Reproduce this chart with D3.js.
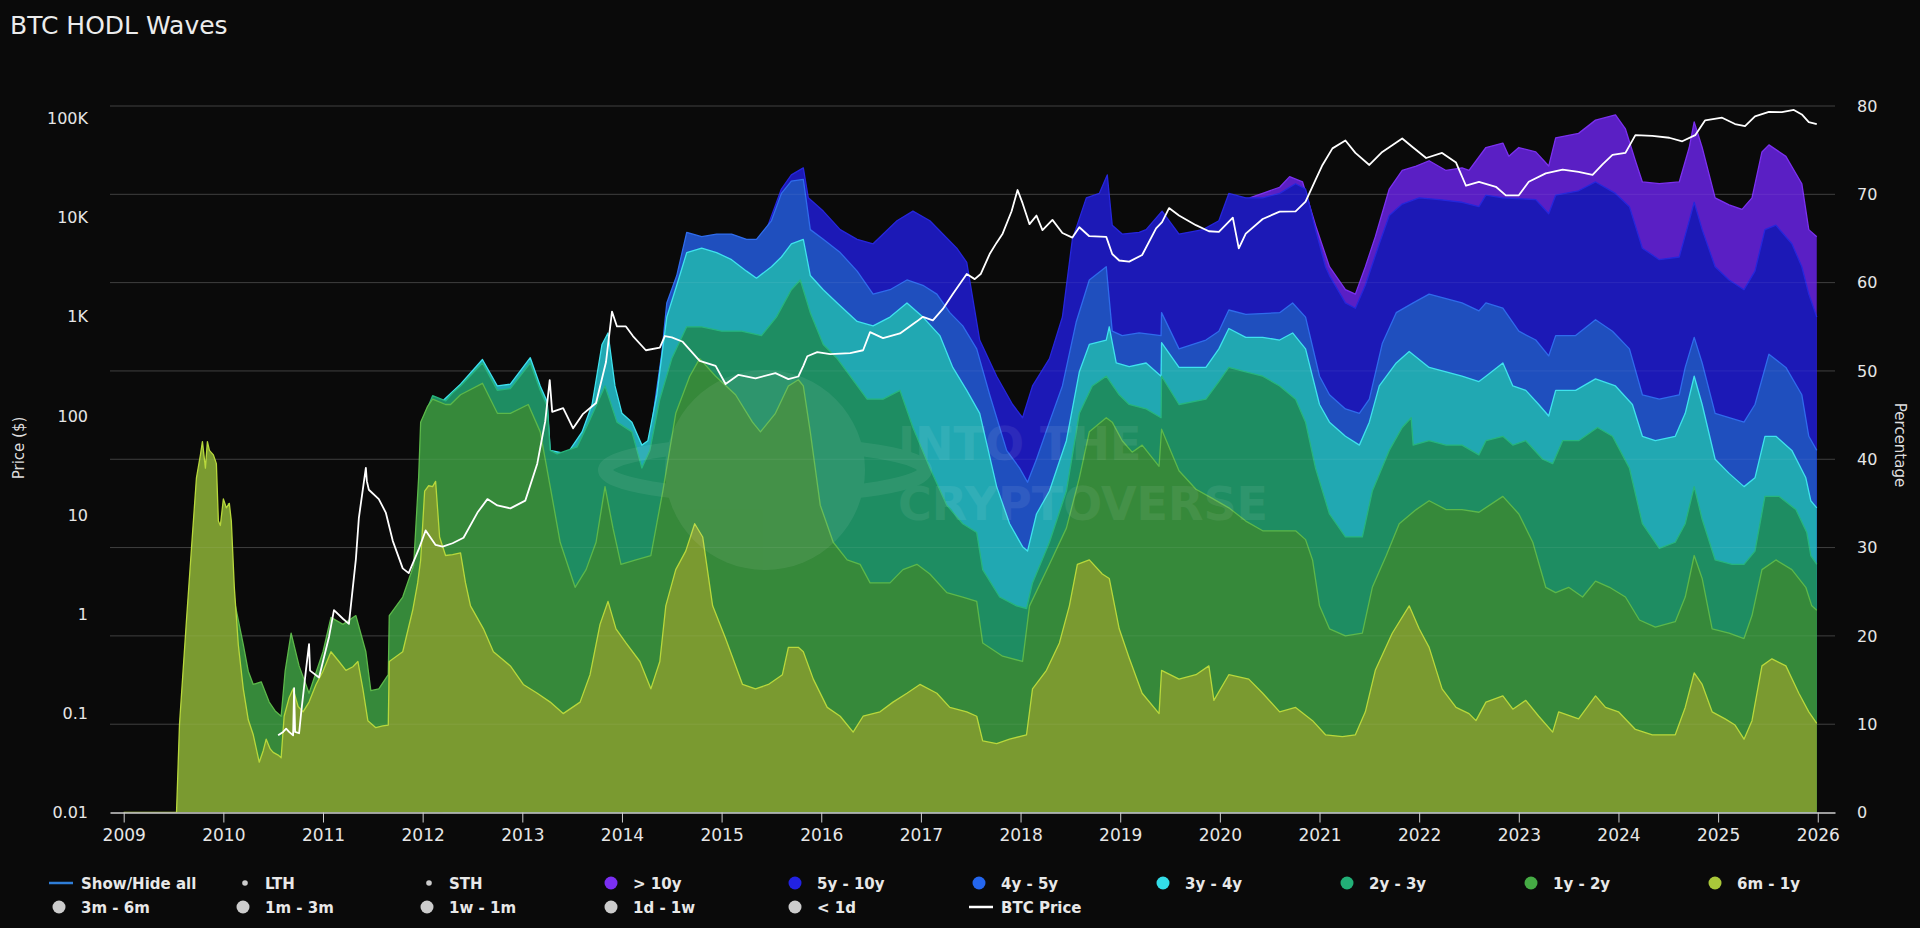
<!DOCTYPE html>
<html>
<head>
<meta charset="utf-8">
<script src="https://cdn.jsdelivr.net/npm/d3@7"></script>
<style>
  html, body { margin: 0; padding: 0; background: #0a0a0a; }
  svg { display: block; font-family: "DejaVu Sans", sans-serif; }
</style>
</head>
<body>
<div id="chart"></div>
<script>
// CUMULATIVE TOP OF EACH VISIBLE BAND (% of supply), [decimal year, value]
const band6m1y = [[2009.0,0],[2009.53,0],[2009.56,10],[2009.63,21.8],[2009.68,29.9],[2009.73,37.9],[2009.77,40.5],[2009.79,42],[2009.82,39],[2009.84,42],[2009.86,41],[2009.9,40.5],[2009.93,39.5],[2009.95,33],[2009.97,32.5],[2010.0,35.5],[2010.03,34.5],[2010.06,35],[2010.08,33],[2010.11,25.5],[2010.15,19],[2010.2,14],[2010.25,10.5],[2010.3,8.8],[2010.36,5.7],[2010.4,7],[2010.43,8.3],[2010.47,7.2],[2010.5,6.8],[2010.55,6.5],[2010.58,6.2],[2010.61,10.9],[2010.66,13],[2010.7,14],[2010.75,12],[2010.8,11.4],[2010.86,12.5],[2010.93,14.5],[2011.0,16],[2011.08,18.2],[2011.16,17.1],[2011.23,16.1],[2011.3,16.5],[2011.35,17.1],[2011.4,14],[2011.45,10.4],[2011.53,9.6],[2011.6,9.8],[2011.655,9.9],[2011.665,17.1],[2011.8,18.2],[2011.9,22.9],[2011.95,26],[2011.98,28.6],[2012.02,36.4],[2012.06,37],[2012.1,36.9],[2012.13,37.5],[2012.17,31.2],[2012.23,29.1],[2012.3,29.2],[2012.38,29.4],[2012.43,26],[2012.48,23.4],[2012.61,20.8],[2012.71,18.2],[2012.88,16.6],[2013.01,14.5],[2013.15,13.5],[2013.28,12.5],[2013.41,11.2],[2013.58,12.5],[2013.68,15.6],[2013.78,21.3],[2013.86,23.9],[2013.94,20.8],[2014.04,19.2],[2014.18,17.1],[2014.29,14],[2014.38,17.1],[2014.44,23.4],[2014.54,27.5],[2014.64,29.6],[2014.73,32.7],[2014.81,31.2],[2014.91,23.4],[2015.04,19.7],[2015.21,14.5],[2015.34,14],[2015.47,14.5],[2015.61,15.6],[2015.67,18.7],[2015.77,18.7],[2015.82,18.2],[2015.92,15.1],[2016.06,11.9],[2016.19,10.9],[2016.32,9.1],[2016.42,10.9],[2016.59,11.4],[2016.72,12.5],[2016.86,13.5],[2016.99,14.5],[2017.16,13.5],[2017.29,11.9],[2017.46,11.4],[2017.56,10.9],[2017.62,8.1],[2017.76,7.8],[2017.89,8.3],[2018.06,8.8],[2018.12,14],[2018.26,16.1],[2018.39,19.2],[2018.49,23.4],[2018.57,28.1],[2018.69,28.6],[2018.82,27],[2018.89,26.5],[2018.99,20.8],[2019.09,17.5],[2019.22,13.5],[2019.39,11.2],[2019.415,16.1],[2019.59,15.1],[2019.76,15.6],[2019.89,16.6],[2019.94,12.7],[2020.09,15.6],[2020.29,15.1],[2020.43,13.5],[2020.6,11.4],[2020.76,11.9],[2020.93,10.4],[2021.06,8.8],[2021.23,8.6],[2021.36,8.8],[2021.46,11.4],[2021.56,16.1],[2021.73,20.3],[2021.9,23.4],[2022.0,20.8],[2022.1,18.7],[2022.23,14],[2022.37,11.9],[2022.5,11.2],[2022.57,10.4],[2022.67,12.5],[2022.84,13.2],[2022.94,11.7],[2023.07,12.7],[2023.2,10.9],[2023.34,9.1],[2023.4,11.4],[2023.6,10.6],[2023.77,13.2],[2023.87,11.9],[2024.0,11.4],[2024.17,9.4],[2024.34,8.8],[2024.57,8.8],[2024.67,11.9],[2024.76,15.8],[2024.84,14.5],[2024.94,11.4],[2025.07,10.6],[2025.17,9.9],[2025.26,8.3],[2025.34,10.4],[2025.44,16.6],[2025.54,17.4],[2025.68,16.6],[2025.81,13.5],[2025.91,11.4],[2025.99,10.1]];

const band1y2y = [[2010.05,35],[2010.11,24],[2010.2,19],[2010.25,16],[2010.3,14.5],[2010.38,14.8],[2010.46,12.5],[2010.52,11.5],[2010.58,10.9],[2010.62,16],[2010.68,20.3],[2010.76,16.6],[2010.86,13.5],[2011.0,18.2],[2011.08,22.1],[2011.2,21.3],[2011.33,22.3],[2011.43,18.2],[2011.48,13.8],[2011.56,14],[2011.655,15.6],[2011.665,22.3],[2011.8,24.4],[2011.91,28],[2011.96,38],[2011.98,44.2],[2012.05,46],[2012.1,46.8],[2012.23,46.2],[2012.28,46.2],[2012.38,47.3],[2012.6,48.6],[2012.75,45.2],[2012.88,45.2],[2013.06,46.2],[2013.18,43.1],[2013.28,36.9],[2013.38,30.6],[2013.53,25.5],[2013.64,27.5],[2013.74,30.6],[2013.83,36.9],[2013.91,32.2],[2013.99,28.1],[2014.14,28.6],[2014.29,29.1],[2014.41,36.4],[2014.54,45.2],[2014.68,49.4],[2014.78,51.4],[2014.94,49.4],[2015.14,47.3],[2015.31,44.2],[2015.39,43.1],[2015.54,45.2],[2015.67,48.3],[2015.77,49],[2015.82,48.3],[2015.89,43.1],[2015.99,34.8],[2016.12,30.6],[2016.26,28.6],[2016.39,28.1],[2016.49,26],[2016.69,26],[2016.82,27.5],[2016.96,28.1],[2017.09,27],[2017.26,24.9],[2017.42,24.4],[2017.56,23.9],[2017.62,19.2],[2017.82,17.7],[2018.02,17.1],[2018.09,23.4],[2018.29,28.1],[2018.46,32.2],[2018.59,37.9],[2018.69,43.1],[2018.86,44.7],[2018.92,44.2],[2019.02,42.1],[2019.12,40.8],[2019.22,41.6],[2019.39,39.2],[2019.415,43.4],[2019.59,38.7],[2019.76,36.6],[2019.92,35.6],[2020.09,34.5],[2020.26,33],[2020.43,31.9],[2020.76,31.9],[2020.86,30.9],[2020.93,28.6],[2021.0,23.4],[2021.1,20.8],[2021.26,20],[2021.43,20.3],[2021.53,25.5],[2021.67,29.1],[2021.8,32.7],[2021.97,34.3],[2022.1,35.3],[2022.27,34.3],[2022.43,34.3],[2022.6,34],[2022.84,35.8],[2023.0,33.8],[2023.14,30.6],[2023.27,25.5],[2023.37,24.9],[2023.5,25.5],[2023.64,24.4],[2023.77,26.2],[2023.91,25.5],[2024.07,24.4],[2024.21,21.8],[2024.37,21],[2024.57,21.6],[2024.67,24.4],[2024.76,29.1],[2024.84,26.5],[2024.94,20.8],[2025.11,20.3],[2025.26,19.7],[2025.34,22.3],[2025.44,27.5],[2025.58,28.6],[2025.74,27.5],[2025.88,25.5],[2025.94,23.4],[2025.99,22.9]];

const band2y3y = [[2011.97,40],[2012.0,44.5],[2012.1,47.2],[2012.23,46.6],[2012.3,47.5],[2012.38,48.3],[2012.6,50.9],[2012.75,47.8],[2012.88,48],[2013.08,50.9],[2013.18,47.8],[2013.25,46],[2013.28,41],[2013.35,40.6],[2013.55,41.4],[2013.68,44.5],[2013.83,48.3],[2013.95,44.2],[2014.1,43.1],[2014.2,39],[2014.28,41],[2014.38,46.8],[2014.5,51.4],[2014.65,55],[2014.8,55],[2015.0,54.5],[2015.2,54.5],[2015.4,54],[2015.55,56.1],[2015.7,59.2],[2015.79,60.3],[2015.89,56.6],[2016.02,53],[2016.16,51.4],[2016.29,49.4],[2016.46,46.8],[2016.62,46.8],[2016.79,47.8],[2016.92,43.6],[2017.09,39],[2017.26,34.8],[2017.42,32.7],[2017.56,31.7],[2017.62,27.5],[2017.79,24.4],[2017.96,23.4],[2018.06,23.1],[2018.12,26],[2018.29,30.6],[2018.46,36.4],[2018.59,45.2],[2018.72,48.3],[2018.86,49.4],[2018.99,47.3],[2019.09,46.2],[2019.26,45.7],[2019.41,44.7],[2019.415,49.4],[2019.59,46.2],[2019.86,46.8],[2019.99,48.8],[2020.09,50.4],[2020.26,49.9],[2020.43,49.4],[2020.6,48.3],[2020.76,46.8],[2020.86,44.2],[2020.96,39],[2021.1,33.8],[2021.26,31.2],[2021.43,31.2],[2021.53,36.4],[2021.7,41],[2021.83,43.6],[2021.92,44.7],[2021.94,41.6],[2022.1,42.1],[2022.27,41.6],[2022.43,41.6],[2022.6,40.5],[2022.67,42.1],[2022.84,42.6],[2022.94,41.6],[2023.07,42.1],[2023.24,40],[2023.34,39.5],[2023.44,42.1],[2023.6,42.1],[2023.79,43.6],[2023.94,42.6],[2024.11,39],[2024.24,32.7],[2024.41,29.9],[2024.57,30.6],[2024.67,32.7],[2024.76,36.9],[2024.84,33.2],[2024.97,28.6],[2025.14,28.1],[2025.26,28.1],[2025.37,29.6],[2025.47,35.8],[2025.61,35.8],[2025.78,34.3],[2025.89,31.7],[2025.93,29.1],[2025.99,28.1]];

const band3y4y = [[2012.2,46.6],[2012.38,48.5],[2012.6,51.3],[2012.75,48.3],[2012.88,48.5],[2013.08,51.5],[2013.18,48.3],[2013.25,46.5],[2013.28,41],[2013.45,40.6],[2013.6,43.1],[2013.7,46.2],[2013.8,53],[2013.86,54.3],[2013.93,48.3],[2014.0,45.2],[2014.1,44.2],[2014.2,41.6],[2014.26,42.1],[2014.35,47.3],[2014.45,56.1],[2014.55,59.7],[2014.65,63.4],[2014.8,63.9],[2014.95,63.4],[2015.1,62.6],[2015.25,61.3],[2015.35,60.5],[2015.5,61.8],[2015.6,62.9],[2015.7,64.4],[2015.82,64.9],[2015.89,60.8],[2016.02,59.2],[2016.16,57.7],[2016.36,55.6],[2016.52,55.1],[2016.69,56.1],[2016.86,57.7],[2017.02,56.1],[2017.19,54],[2017.32,50.4],[2017.46,47.8],[2017.59,45.2],[2017.76,36.9],[2017.89,32.7],[2018.02,30.1],[2018.07,29.6],[2018.16,33.8],[2018.29,36.4],[2018.46,42.1],[2018.59,49.9],[2018.69,53],[2018.86,53.5],[2018.89,55],[2018.96,50.9],[2019.09,50.5],[2019.26,50.9],[2019.41,49.4],[2019.415,53.2],[2019.59,50.4],[2019.86,50.4],[2019.99,52.5],[2020.09,54.8],[2020.26,53.8],[2020.43,53.8],[2020.6,53.5],[2020.73,54.3],[2020.86,52.5],[2021.0,46.2],[2021.1,44.2],[2021.26,42.6],[2021.4,41.6],[2021.5,44.2],[2021.6,48.3],[2021.77,50.9],[2021.9,52.2],[2022.1,50.4],[2022.27,49.9],[2022.43,49.4],[2022.6,48.8],[2022.67,49.4],[2022.84,50.9],[2022.94,48.3],[2023.07,47.8],[2023.2,46.2],[2023.3,44.9],[2023.37,47.8],[2023.57,47.8],[2023.77,49.1],[2023.97,48.3],[2024.14,46.2],[2024.24,42.6],[2024.37,42.1],[2024.57,42.6],[2024.67,45.2],[2024.76,49.4],[2024.84,46.2],[2024.97,40],[2025.11,38.4],[2025.26,36.9],[2025.37,37.9],[2025.47,42.6],[2025.58,42.6],[2025.74,41],[2025.88,37.9],[2025.93,35.3],[2025.99,34.5]];

const band4y5y = [[2014.3,44],[2014.4,52],[2014.45,57.7],[2014.55,60.8],[2014.65,65.7],[2014.8,65.2],[2014.95,65.5],[2015.1,65.5],[2015.25,64.9],[2015.35,64.9],[2015.5,67],[2015.6,70.1],[2015.7,71.5],[2015.82,71.7],[2015.89,66],[2016.02,64.9],[2016.19,63.4],[2016.36,61.3],[2016.52,58.7],[2016.69,59.2],[2016.86,60.3],[2017.02,59.7],[2017.16,58.7],[2017.29,56.6],[2017.42,55.1],[2017.56,52.5],[2017.69,47.3],[2017.86,41],[2017.99,39],[2018.07,37.4],[2018.16,40],[2018.29,44.2],[2018.42,48.3],[2018.56,55.6],[2018.69,60.3],[2018.86,61.8],[2018.92,54.5],[2019.02,54],[2019.19,54.3],[2019.41,54],[2019.415,56.6],[2019.59,52.5],[2019.86,53.5],[2019.99,54.5],[2020.09,56.9],[2020.26,56.4],[2020.6,56.6],[2020.73,57.7],[2020.86,56.1],[2021.0,49.4],[2021.1,47.3],[2021.26,45.7],[2021.4,45.2],[2021.5,46.8],[2021.63,53.1],[2021.77,56.6],[2021.94,57.7],[2022.1,58.7],[2022.27,58.2],[2022.43,57.7],[2022.6,56.8],[2022.67,57.7],[2022.84,57.1],[2023.0,54.5],[2023.17,53.5],[2023.3,51.7],[2023.37,54],[2023.57,54],[2023.77,55.8],[2023.94,54.5],[2024.11,52.5],[2024.24,47.3],[2024.41,46.8],[2024.61,47.3],[2024.67,50.4],[2024.76,53.8],[2024.84,50.9],[2024.97,45.2],[2025.11,44.7],[2025.26,44.2],[2025.37,46.2],[2025.51,51.9],[2025.68,50.4],[2025.84,47.3],[2025.91,42.6],[2025.99,41]];

const band5y10y = [[2015.45,66],[2015.6,70.6],[2015.7,72.2],[2015.82,73],[2015.87,69.6],[2016.02,68.1],[2016.19,66],[2016.36,64.9],[2016.52,64.4],[2016.76,67],[2016.92,68.1],[2017.09,67],[2017.22,65.5],[2017.36,63.9],[2017.46,62.3],[2017.59,53.5],[2017.76,49.4],[2017.92,46.2],[2018.02,44.7],[2018.12,48.3],[2018.29,51.4],[2018.42,56.1],[2018.52,64.9],[2018.66,69.6],[2018.79,70.1],[2018.87,72.2],[2018.92,66.5],[2019.02,65.5],[2019.19,65.7],[2019.26,66],[2019.42,68.1],[2019.59,65.5],[2019.83,66],[2019.99,67],[2020.09,70.1],[2020.26,69.6],[2020.43,69.6],[2020.6,70.1],[2020.76,71.2],[2020.86,70.6],[2020.96,66],[2021.06,61.8],[2021.1,60.8],[2021.26,57.7],[2021.36,57.1],[2021.46,59.7],[2021.6,64.4],[2021.7,67.6],[2021.83,68.9],[2022.0,69.6],[2022.2,69.4],[2022.43,69.1],[2022.6,68.6],[2022.67,69.9],[2022.84,69.6],[2023.17,69.4],[2023.3,67.8],[2023.37,69.9],[2023.6,70.4],[2023.77,71.4],[2023.97,70.1],[2024.11,68.6],[2024.24,63.9],[2024.41,62.6],[2024.61,62.9],[2024.71,67],[2024.76,69.1],[2024.84,66],[2024.97,61.8],[2025.11,60.3],[2025.26,59.2],[2025.37,61.3],[2025.47,66],[2025.58,66.5],[2025.74,64.4],[2025.84,61.8],[2025.91,58.7],[2025.99,56.1]];

const band10yPlus = [[2020.3,69.6],[2020.45,70.2],[2020.6,70.8],[2020.7,72],[2020.83,71.4],[2020.96,66.5],[2021.1,61.8],[2021.26,59.2],[2021.36,58.7],[2021.46,61.8],[2021.56,65.2],[2021.7,70.6],[2021.83,72.7],[2021.97,73.2],[2022.1,73.8],[2022.27,72.7],[2022.43,73],[2022.5,72.7],[2022.67,75.3],[2022.84,75.8],[2022.9,74.3],[2023.0,75.3],[2023.17,74.8],[2023.3,73.2],[2023.37,76.4],[2023.6,76.9],[2023.77,78.4],[2023.97,79],[2024.07,77.4],[2024.17,73.8],[2024.24,71.4],[2024.41,71.2],[2024.61,71.4],[2024.71,75.3],[2024.76,78.2],[2024.84,75.3],[2024.97,69.6],[2025.11,68.8],[2025.24,68.3],[2025.34,69.6],[2025.44,74.8],[2025.51,75.6],[2025.68,74.3],[2025.84,71.2],[2025.91,66],[2025.99,65.2]];

// BTC PRICE (USD), [decimal year, price]
const btcPrice = [[2010.55,0.06],[2010.6,0.065],[2010.63,0.07],[2010.66,0.065],[2010.7,0.06],[2010.71,0.18],[2010.72,0.065],[2010.76,0.063],[2010.78,0.1],[2010.83,0.28],[2010.86,0.5],[2010.87,0.27],[2010.96,0.23],[2011.06,0.59],[2011.11,1.1],[2011.2,0.9],[2011.26,0.8],[2011.33,3.6],[2011.36,9.4],[2011.43,30],[2011.44,22],[2011.46,18],[2011.56,14.5],[2011.63,10.6],[2011.7,5.5],[2011.8,2.9],[2011.86,2.6],[2011.96,4.5],[2012.03,7],[2012.13,5],[2012.2,4.8],[2012.3,5.2],[2012.41,5.9],[2012.55,10.6],[2012.65,14.5],[2012.75,12.5],[2012.88,11.7],[2013.03,14],[2013.15,33],[2013.23,88],[2013.275,230],[2013.3,110],[2013.41,120],[2013.51,75],[2013.61,105],[2013.74,135],[2013.84,350],[2013.9,1130],[2013.95,800],[2014.04,800],[2014.11,640],[2014.24,460],[2014.38,490],[2014.43,640],[2014.5,620],[2014.61,560],[2014.78,360],[2014.94,320],[2015.04,210],[2015.17,260],[2015.34,240],[2015.54,270],[2015.67,235],[2015.77,250],[2015.82,320],[2015.86,400],[2015.96,440],[2016.09,420],[2016.29,430],[2016.42,460],[2016.49,700],[2016.62,610],[2016.79,680],[2016.96,900],[2017.02,1000],[2017.12,920],[2017.22,1200],[2017.32,1700],[2017.46,2700],[2017.54,2400],[2017.6,2700],[2017.69,4300],[2017.76,5600],[2017.82,6900],[2017.91,11600],[2017.97,19000],[2018.02,14000],[2018.09,8600],[2018.16,10500],[2018.22,7500],[2018.32,9500],[2018.42,7000],[2018.52,6300],[2018.59,8000],[2018.69,6500],[2018.86,6400],[2018.92,4300],[2018.99,3700],[2019.09,3600],[2019.22,4200],[2019.36,7800],[2019.42,9000],[2019.49,12500],[2019.59,10500],[2019.76,8400],[2019.89,7300],[2019.99,7200],[2020.13,10000],[2020.19,4900],[2020.26,6900],[2020.43,9700],[2020.6,11500],[2020.76,11600],[2020.86,14500],[2020.96,24000],[2021.03,34000],[2021.13,50000],[2021.26,60000],[2021.36,45000],[2021.5,34000],[2021.63,46000],[2021.83,63000],[2021.93,52000],[2022.07,40000],[2022.23,45000],[2022.37,36000],[2022.47,21000],[2022.6,23000],[2022.77,20500],[2022.87,16800],[2023.0,16800],[2023.1,23000],[2023.27,28000],[2023.44,30500],[2023.6,29000],[2023.74,27000],[2023.84,34500],[2023.94,43000],[2024.07,45000],[2024.17,68000],[2024.34,67000],[2024.51,64000],[2024.64,59000],[2024.77,68000],[2024.87,96000],[2025.04,102000],[2025.17,88000],[2025.27,84000],[2025.37,105000],[2025.51,117000],[2025.64,116000],[2025.76,122000],[2025.84,110000],[2025.91,92000],[2025.99,88000]];

// TICKS
const yearTicks = d3.range(2009, 2027);
const priceTicks = [0.01, 0.1, 1, 10, 100, 1000, 10000, 100000];
const priceTickLabels = ["0.01", "0.1", "1", "10", "100", "1K", "10K", "100K"];
const pctTicks = [0, 10, 20, 30, 40, 50, 60, 70, 80];

// BANDS, DRAWN TOP OF STACK FIRST
const bands = [
  {name: "> 10y",   data: band10yPlus, fill: "#5a1fc4", stroke: "#7b30f0"},
  {name: "5y - 10y", data: band5y10y,  fill: "#1c19b6", stroke: "#2626dc"},
  {name: "4y - 5y",  data: band4y5y,   fill: "#1f4fbe", stroke: "#2f6cec"},
  {name: "3y - 4y",  data: band3y4y,   fill: "#21a8b2", stroke: "#3fe2ee"},
  {name: "2y - 3y",  data: band2y3y,   fill: "#1e8d62", stroke: "#27b57c"},
  {name: "1y - 2y",  data: band1y2y,   fill: "#36893a", stroke: "#5cb84a"},
  {name: "6m - 1y",  data: band6m1y,   fill: "#7a9a30", stroke: "#b8d83c"}
];

// LEGEND ROWS
const legendRow1 = [
  {label: "Show/Hide all", type: "line", color: "#2f7ed8"},
  {label: "LTH", type: "dot", color: "#cccccc"},
  {label: "STH", type: "dot", color: "#cccccc"},
  {label: "> 10y", type: "circle", color: "#7b2ff2"},
  {label: "5y - 10y", type: "circle", color: "#2222e2"},
  {label: "4y - 5y", type: "circle", color: "#2466ee"},
  {label: "3y - 4y", type: "circle", color: "#33dde8"},
  {label: "2y - 3y", type: "circle", color: "#22b077"},
  {label: "1y - 2y", type: "circle", color: "#45ab44"},
  {label: "6m - 1y", type: "circle", color: "#aac83a"}
];
const legendRow2 = [
  {label: "3m - 6m", type: "circle", color: "#cccccc"},
  {label: "1m - 3m", type: "circle", color: "#cccccc"},
  {label: "1w - 1m", type: "circle", color: "#cccccc"},
  {label: "1d - 1w", type: "circle", color: "#cccccc"},
  {label: "< 1d", type: "circle", color: "#cccccc"},
  {label: "BTC Price", type: "line", color: "#ffffff"}
];

// GLOBAL LAYOUT
const width = 1920, height = 928;
const plot = {left: 110, right: 1835, top: 106, bottom: 812.5};

const svg = d3.select("#chart").append("svg")
  .attr("width", width).attr("height", height);
svg.append("rect").attr("width", width).attr("height", height).attr("fill", "#0a0a0a");

// SCALES
const x = d3.scaleLinear().domain([2008.8625, 2026.173]).range([plot.left, plot.right]);
const yPct = d3.scaleLinear().domain([0, 80]).range([plot.bottom, plot.top]);
const yPrice = d3.scaleLog().domain([0.01, Math.pow(10, 5.1265)]).range([plot.bottom, plot.top]);

svg.append("clipPath").attr("id", "plotClip")
  .append("rect")
  .attr("x", plot.left).attr("y", plot.top - 2)
  .attr("width", plot.right - plot.left).attr("height", plot.bottom - plot.top + 2);

// TITLE
svg.append("text")
  .attr("x", 10).attr("y", 34)
  .attr("fill", "#ececec")
  .style("font-size", "25px")
  .text("BTC HODL Waves");

// GRID BEHIND
const grid = svg.append("g");
grid.selectAll("line")
  .data(pctTicks.filter(d => d > 0))
  .enter().append("line")
  .attr("x1", plot.left).attr("x2", plot.right)
  .attr("y1", d => yPct(d)).attr("y2", d => yPct(d))
  .attr("stroke", "#333333").attr("stroke-width", 1);

// STACKED WAVES (painted from the top band down)
const series = svg.append("g").attr("clip-path", "url(#plotClip)");
const area = d3.area()
  .x(d => x(d[0]))
  .y0(yPct(0))
  .y1(d => yPct(d[1]));
const edge = d3.line()
  .x(d => x(d[0]))
  .y(d => yPct(d[1]));

bands.forEach(b => {
  series.append("path")
    .datum(b.data)
    .attr("d", area)
    .attr("fill", b.fill);
  series.append("path")
    .datum(b.data)
    .attr("d", edge)
    .attr("fill", "none")
    .attr("stroke", b.stroke)
    .attr("stroke-width", 1.3)
    .attr("stroke-linejoin", "round");
});

// GRID SEEN THROUGH THE AREAS
svg.append("g").selectAll("line")
  .data(pctTicks.filter(d => d > 0))
  .enter().append("line")
  .attr("x1", plot.left).attr("x2", plot.right)
  .attr("y1", d => yPct(d)).attr("y2", d => yPct(d))
  .attr("stroke", "#ffffff").attr("stroke-opacity", 0.07).attr("stroke-width", 1);

// WATERMARK
const wm = svg.append("g").attr("opacity", 0.07).attr("fill", "#ffffff");
wm.append("circle").attr("cx", 765).attr("cy", 470).attr("r", 100);
wm.append("ellipse").attr("cx", 765).attr("cy", 470).attr("rx", 160).attr("ry", 26)
  .attr("fill", "none").attr("stroke", "#ffffff").attr("stroke-width", 14);
wm.append("text").attr("x", 898).attr("y", 460)
  .style("font-size", "46px").style("font-weight", "bold").text("INTO THE");
wm.append("text").attr("x", 898).attr("y", 520)
  .style("font-size", "46px").style("font-weight", "bold").text("CRYPTOVERSE");

// BTC PRICE LINE
const priceLine = d3.line()
  .x(d => x(d[0]))
  .y(d => yPrice(d[1]));
svg.append("g").attr("clip-path", "url(#plotClip)")
  .append("path")
  .datum(btcPrice)
  .attr("d", priceLine)
  .attr("fill", "none")
  .attr("stroke", "#ffffff")
  .attr("stroke-width", 1.8)
  .attr("stroke-linejoin", "round");

// X AXIS
const xAxis = d3.axisBottom(x)
  .tickValues(yearTicks)
  .tickFormat(d3.format("d"))
  .tickSize(10)
  .tickSizeOuter(0);
const xg = svg.append("g")
  .attr("transform", "translate(0," + plot.bottom + ")")
  .call(xAxis);
xg.select(".domain").attr("stroke", "#cfcfcf").attr("stroke-width", 1.5);
xg.selectAll(".tick line").attr("stroke", "#cfcfcf");
xg.selectAll(".tick text")
  .attr("fill", "#e6e6e6")
  .attr("y", 16)
  .style("font-size", "17px")
  .style("font-family", "DejaVu Sans, sans-serif");

// LEFT AXIS (LOG PRICE) - labels only
const yAxisLeft = d3.axisLeft(yPrice)
  .tickValues(priceTicks)
  .tickFormat((d, i) => priceTickLabels[i])
  .tickSize(0);
const ylg = svg.append("g")
  .attr("transform", "translate(" + 88 + ",0)")
  .call(yAxisLeft);
ylg.select(".domain").remove();
ylg.selectAll(".tick text")
  .attr("x", 0)
  .attr("fill", "#e6e6e6")
  .style("font-size", "16px")
  .style("font-family", "DejaVu Sans, sans-serif");

// RIGHT AXIS (PERCENTAGE) - labels only
const yAxisRight = d3.axisRight(yPct)
  .tickValues(pctTicks)
  .tickSize(0);
const yrg = svg.append("g")
  .attr("transform", "translate(" + 1857 + ",0)")
  .call(yAxisRight);
yrg.select(".domain").remove();
yrg.selectAll(".tick text")
  .attr("x", 0)
  .attr("fill", "#e6e6e6")
  .style("font-size", "16px")
  .style("font-family", "DejaVu Sans, sans-serif");

// AXIS TITLES
svg.append("text")
  .attr("transform", "translate(24," + 448 + ") rotate(-90)")
  .attr("text-anchor", "middle")
  .attr("fill", "#dddddd")
  .style("font-size", "15px")
  .text("Price ($)");
svg.append("text")
  .attr("transform", "translate(1895," + 445 + ") rotate(90)")
  .attr("text-anchor", "middle")
  .attr("fill", "#dddddd")
  .style("font-size", "15px")
  .text("Percentage");

// LEGEND
function drawLegendRow(items, cy) {
  const g = svg.append("g");
  items.forEach((it, i) => {
    const cx = 61 + 184 * i;
    if (it.type === "line") {
      g.append("line")
        .attr("x1", cx - 12).attr("x2", cx + 12)
        .attr("y1", cy).attr("y2", cy)
        .attr("stroke", it.color).attr("stroke-width", 2.5);
    } else if (it.type === "dot") {
      g.append("circle").attr("cx", cx).attr("cy", cy).attr("r", 2.8).attr("fill", it.color);
    } else {
      g.append("circle").attr("cx", cx - 2).attr("cy", cy).attr("r", 6.5).attr("fill", it.color);
    }
    g.append("text")
      .attr("x", 81 + 184 * i)
      .attr("y", cy + 5.5)
      .attr("fill", "#e8e8e8")
      .style("font-size", "15px")
      .style("font-weight", "bold")
      .text(it.label);
  });
}
drawLegendRow(legendRow1, 883);
drawLegendRow(legendRow2, 907);
</script>
</body>
</html>
